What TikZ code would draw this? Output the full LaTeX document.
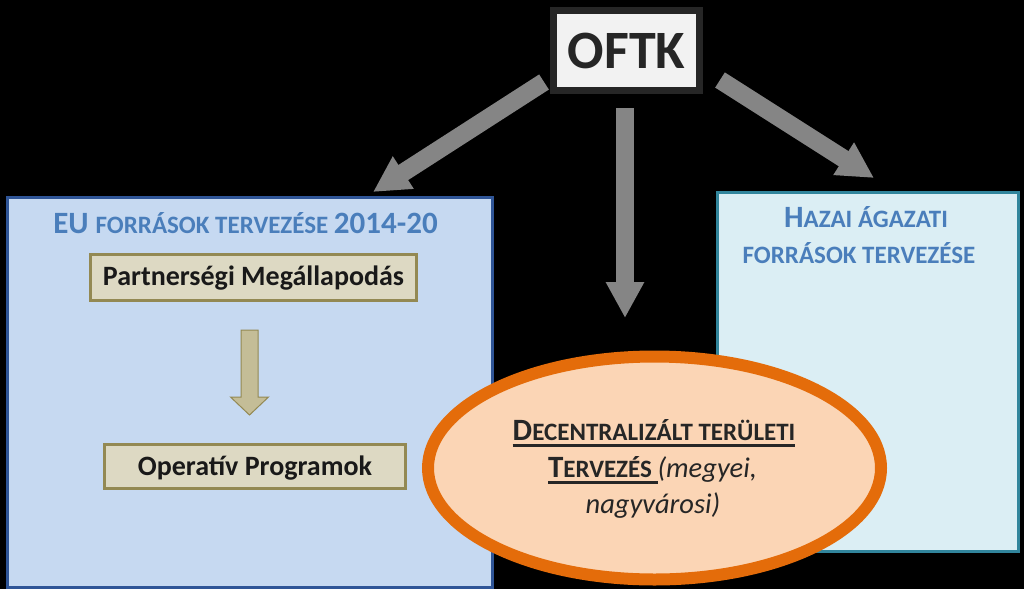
\documentclass[tikz,border=0pt]{standalone}
\usepackage{fontspec}
\setmainfont{Carlito}
\usetikzlibrary{arrows.meta,shapes.geometric,calc}
\definecolor{euFill}{HTML}{C6D9F1}
\definecolor{euLine}{HTML}{2F5597}
\definecolor{hzFill}{HTML}{DBEEF4}
\definecolor{hzLine}{HTML}{31859C}
\definecolor{ttl}{HTML}{4A7EBB}
\definecolor{bgFill}{HTML}{DDD9C3}
\definecolor{bgLine}{HTML}{938953}
\definecolor{saFill}{HTML}{C4BD97}
\definecolor{elFill}{HTML}{FBD5B5}
\definecolor{elLine}{HTML}{E46C0A}
\definecolor{arr}{HTML}{858585}
\definecolor{dtxt}{HTML}{262626}
\definecolor{oftkFill}{HTML}{F2F2F2}
\newcommand\bigc{\fontsize{31}{36}\selectfont}
\newcommand\smc{\fontsize{25}{30}\selectfont}
\newcommand\itc{\fontsize{28.5}{34}\selectfont}
\newcommand\myul[1]{\setbox0\hbox{#1}\rlap{\raisebox{-6.5pt}{\rule{\wd0}{2.2pt}}}\box0}
\begin{document}
\begin{tikzpicture}[x=1pt,y=-1pt,
  panel/.style={draw, line width=3pt, anchor=north west, inner sep=0pt, outer sep=0pt},
  beige/.style={draw=bgLine, fill=bgFill, line width=3pt, inner sep=0pt, outer sep=0pt,
    font=\bfseries\fontsize{28}{32}\selectfont, text=black!90},
  ttlstyle/.style={anchor=base, inner sep=0pt, text=ttl, font=\bfseries},
  eltxt/.style={anchor=base, inner sep=0pt, text=dtxt, font=\bfseries},
  bigarrow/.style={draw=arr, line width=18pt, -{Triangle[width=36pt,length=36pt]}},
  smallarrow/.style={draw=bgLine, fill=saFill, line width=1pt, line join=miter},
]
\fill[black] (0,0) rectangle (1024,589);
\useasboundingbox (0,0) rectangle (1024,589);

% panels
\node[panel, draw=euLine, fill=euFill, minimum width=485pt, minimum height=390pt] (eu) at (7,197) {};
\node[panel, draw=hzLine, fill=hzFill, minimum width=301pt, minimum height=359pt] (hz) at (717,192) {};

% titles
\node[ttlstyle] (eut) at (245.5,233) {\bigc EU \smc FORRÁSOK TERVEZÉSE \bigc 2014-20};
\node[ttlstyle] (hzt1) at (866,227) {\bigc H\smc AZAI ÁGAZATI};
\node[ttlstyle] (hzt2) at (859,263) {\smc FORRÁSOK TERVEZÉSE};

% inner boxes
\node[beige, minimum width=326pt, minimum height=46pt, text height=19pt, text depth=4pt] (pm) at (253.5,277.5) {Partnerségi Megállapodás};
\node[beige, minimum width=301pt, minimum height=44pt, text height=21pt, text depth=4pt] (op) at (255,466.5) {Operatív Programok};

% small block arrow
\coordinate (sa0) at (249.5,330);
\coordinate (satip) at (249.5,415);
\draw[smallarrow] ($(sa0)+(-8.5,0)$) -- ($(sa0)+(8.5,0)$) -- ($(sa0)+(8.5,67)$) -- ($(sa0)+(19,67)$)
  -- (satip) -- ($(sa0)+(-19,67)$) -- ($(sa0)+(-8.5,67)$) -- cycle;

% ellipse
\node[ellipse, draw=elLine, fill=elFill, line width=12pt, minimum width=453pt, minimum height=223pt,
  inner sep=0pt, outer sep=0pt] (dec) at (654.5,468) {};
\node[eltxt] (d1) at (654,440) {\myul{\bigc D\smc ECENTRALIZÁLT TERÜLETI}};
\node[eltxt] (d2) at (652.5,477) {\myul{\bigc T\smc ERVEZÉS }\mdseries\itshape\itc (megyei,};
\node[eltxt] (d3) at (653,513) {\mdseries\itshape\itc nagyvárosi)};

% OFTK
\node[draw=dtxt, fill=oftkFill, line width=7pt, minimum width=146pt, minimum height=80pt,
  inner sep=0pt, outer sep=0pt, text=dtxt, font=\bfseries\fontsize{54}{60}\selectfont] (oftk) at (626.5,50.5) {OFTK};

% big arrows
\coordinate (la0) at (544,82);
\coordinate (la1) at (373,192);
\coordinate (ma0) at (625,108);
\coordinate (ma1) at (625,318);
\coordinate (ra0) at (720,80);
\coordinate (ra1) at (874,178);
\draw[bigarrow] (la0) -- (la1);
\draw[bigarrow] (ma0) -- (ma1);
\draw[bigarrow] (ra0) -- (ra1);
\end{tikzpicture}
\end{document}
